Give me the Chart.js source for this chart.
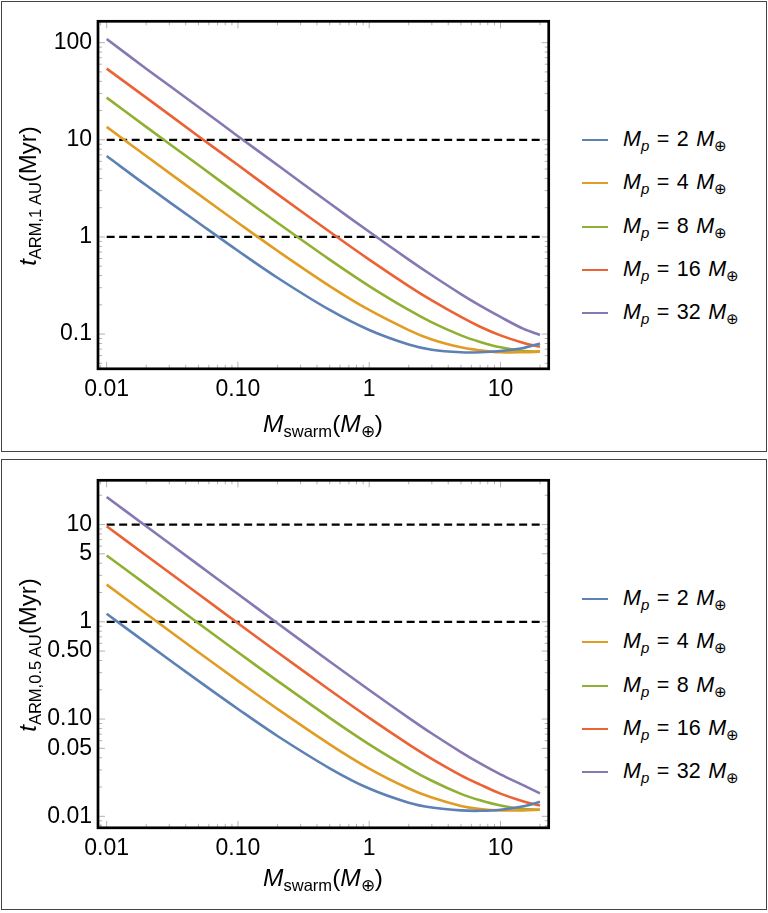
<!DOCTYPE html>
<html>
<head>
<meta charset="utf-8">
<script src="https://cdn.jsdelivr.net/npm/chart.js@4.4.1/dist/chart.umd.min.js"></script>
<style>
  html, body { margin: 0; padding: 0; background: #fff; }
  body { width: 768px; height: 913px; position: relative; overflow: hidden;
         font-family: "Liberation Sans", Arial, sans-serif; color: #000; }
  .panel { position: absolute; left: 0.5px; width: 766px; height: 451px;
           border: 1.5px solid #444; box-sizing: border-box; }
  .plot { position: absolute; left: 0; width: 560px; height: 452px; }
  .ytitle { position: absolute; left: 28px; white-space: nowrap; font-size: 24px;
            transform: translate(-50%, -50%) rotate(-90deg); }
  .xtitle { position: absolute; left: 323px; white-space: nowrap; font-size: 24.5px;
            transform: translateX(-50%); }
  .sb { font-size: 16.5px; position: relative; top: 0.32em; }
  .legend { position: absolute; left: 582px; }
  .legend div { position: absolute; left: 0; height: 30px; line-height: 30px;
                white-space: nowrap; font-size: 21.5px; word-spacing: 1.5px; }
  .legend .sb { font-size: 15px; }
  .legend span.swatch { display: inline-block; width: 26px; height: 2px;
                        vertical-align: middle; margin-right: 15px; }
</style>
</head>
<body>
<div class="panel" style="top:0.5px"></div>
<div class="panel" style="top:459px"></div>

<div class="plot" style="top:0px"><canvas id="chart1AU"></canvas></div>
<div class="plot" style="top:459px"><canvas id="chartHalfAU"></canvas></div>

<div class="ytitle" style="top:196px"><i>t</i><span class="sb">ARM,1 AU</span>(Myr)</div>
<div class="ytitle" style="top:655px"><i>t</i><span class="sb">ARM,0.5 AU</span>(Myr)</div>
<div class="xtitle" style="top:410px"><i>M</i><span class="sb">swarm</span>(<i>M</i><span class="sb">&#8853;</span>)</div>
<div class="xtitle" style="top:864px"><i>M</i><span class="sb">swarm</span>(<i>M</i><span class="sb">&#8853;</span>)</div>

<div class="legend" id="legend1AU" style="top:0px"></div>
<div class="legend" id="legendHalfAU" style="top:459px"></div>

<script>
// swarm mass (Earth masses) where the curves were read
const massSwarm = [0.01, 0.02, 0.05, 0.1, 0.2, 0.5, 1, 2, 3, 5, 7, 10, 15, 20];
const planetMasses = [2, 4, 8, 16, 32];
const seriesColors = ["#5E81B5", "#E19C24", "#8FB032", "#EB6235", "#8778B3"];

// t_ARM at 1 AU (Myr)
const t1AU_Mp2  = [6.8, 3.4, 1.4, 0.72, 0.38, 0.177, 0.110, 0.078, 0.069, 0.065, 0.065, 0.067, 0.072, 0.080];
const t1AU_Mp4  = [13.6, 6.8, 2.76, 1.40, 0.72, 0.312, 0.177, 0.110, 0.088, 0.073, 0.068, 0.065, 0.065, 0.066];
const t1AU_Mp8  = [27.2, 13.6, 5.5, 2.76, 1.40, 0.584, 0.312, 0.177, 0.132, 0.097, 0.083, 0.073, 0.067, 0.066];
const t1AU_Mp16 = [54, 27.2, 10.9, 5.5, 2.76, 1.13, 0.584, 0.312, 0.222, 0.150, 0.119, 0.097, 0.081, 0.074];
const t1AU_Mp32 = [109, 54, 21.8, 10.9, 5.5, 2.22, 1.13, 0.584, 0.403, 0.258, 0.196, 0.150, 0.113, 0.098];

// t_ARM at 0.5 AU (Myr)
const tHalfAU_Mp2  = [1.21, 0.607, 0.247, 0.127, 0.067, 0.0312, 0.0193, 0.0138, 0.0123, 0.0115, 0.0114, 0.0117, 0.0127, 0.0141];
const tHalfAU_Mp4  = [2.41, 1.21, 0.487, 0.247, 0.127, 0.055, 0.031, 0.0193, 0.0156, 0.0128, 0.0119, 0.0115, 0.0115, 0.0117];
const tHalfAU_Mp8  = [4.81, 2.41, 0.967, 0.487, 0.247, 0.103, 0.055, 0.0312, 0.0232, 0.0170, 0.0146, 0.0129, 0.0119, 0.0117];
const tHalfAU_Mp16 = [9.6, 4.81, 1.93, 0.967, 0.487, 0.199, 0.103, 0.055, 0.039, 0.0264, 0.0212, 0.0171, 0.0142, 0.0129];
const tHalfAU_Mp32 = [19.2, 9.6, 3.85, 1.93, 0.967, 0.391, 0.199, 0.103, 0.071, 0.0458, 0.0350, 0.0270, 0.0208, 0.0172];

// dashed reference levels (Myr), drawn across the sampled mass range
const refLevels = [10, 1];
const refSpan = [0.01, 20];

// axis ranges and labelled ticks
const xRange = [0.00859, 23.3];
const xTickValues = [0.01, 0.1, 1, 10];
const xTickLabels = ["0.01", "0.10", "1", "10"];
const y1AURange = [0.0439, 166];
const y1AUTickValues = [0.1, 1, 10, 100];
const y1AUTickLabels = ["0.1", "1", "10", "100"];
const yHalfAURange = [0.00762, 28.5];
const yHalfAUTickValues = [0.01, 0.05, 0.1, 0.5, 1, 5, 10];
const yHalfAUTickLabels = ["0.01", "0.05", "0.10", "0.50", "1", "5", "10"];

// frame + inward Mathematica style ticks
const frameTicks = {
    id: "frameTicks",
    beforeDatasetsDraw(chart, args, opts) {
        const { ctx, chartArea: a, scales } = chart;
        const x = scales.x, y = scales.y;
        ctx.save();
        ctx.strokeStyle = "#b4b4b4";
        ctx.lineWidth = 1;
        const minorOf = (lo, hi) => {
            const out = [];
            for (let d = Math.floor(Math.log10(lo)); d <= Math.ceil(Math.log10(hi)); d++) {
                for (let k = 1; k <= 9; k++) {
                    const v = k * Math.pow(10, d);
                    if (v >= lo && v <= hi) out.push(v);
                }
            }
            return out;
        };
        const drawX = (v, len) => {
            const px = x.getPixelForValue(v);
            ctx.beginPath();
            ctx.moveTo(px, a.bottom); ctx.lineTo(px, a.bottom - len);
            ctx.moveTo(px, a.top); ctx.lineTo(px, a.top + len);
            ctx.stroke();
        };
        const drawY = (v, len) => {
            const py = y.getPixelForValue(v);
            ctx.beginPath();
            ctx.moveTo(a.left, py); ctx.lineTo(a.left + len, py);
            ctx.moveTo(a.right, py); ctx.lineTo(a.right - len, py);
            ctx.stroke();
        };
        minorOf(x.min, x.max).forEach((v) => drawX(v, opts.xMajor.includes(v) ? 7 : 4));
        minorOf(y.min, y.max).forEach((v) => drawY(v, opts.yMajor.includes(v) ? 7 : 4));
        ctx.restore();
    },
    afterDatasetsDraw(chart) {
        const { ctx, chartArea: a } = chart;
        ctx.save();
        ctx.strokeStyle = "#000";
        ctx.lineWidth = 2.7;
        ctx.lineJoin = "miter";
        ctx.strokeRect(a.left, a.top, a.right - a.left, a.bottom - a.top);
        ctx.restore();
    },
};

function makeChart(canvasId, legendId, seriesList, yRange, yTickValues, yTickLabels) {
    const datasets = seriesList.map((vals, i) => ({
        label: "Mp = " + planetMasses[i],
        data: massSwarm.map((m, j) => ({ x: m, y: vals[j] })),
        borderColor: seriesColors[i],
        borderWidth: 2.6,
        pointRadius: 0,
        tension: 0.35,
        fill: false,
        inLegend: true,
    }));
    refLevels.forEach((lvl) => {
        datasets.push({
            label: "ref " + lvl,
            data: refSpan.map((m) => ({ x: m, y: lvl })),
            borderColor: "#000",
            borderWidth: 2.3,
            borderDash: [8, 4.5],
            pointRadius: 0,
            fill: false,
            inLegend: false,
        });
    });

    const chart = new Chart(document.getElementById(canvasId).getContext("2d"), {
        type: "line",
        data: { datasets: datasets },
        options: {
            responsive: true,
            maintainAspectRatio: false,
            animation: false,
            layout: { padding: { top: 21.3, right: 11.3, left: 0, bottom: 0 } },
            plugins: {
                legend: { display: false },
                tooltip: { enabled: false },
                frameTicks: { xMajor: xTickValues, yMajor: yTickValues },
            },
            scales: {
                x: {
                    type: "logarithmic",
                    min: xRange[0],
                    max: xRange[1],
                    grid: { display: false, drawTicks: false },
                    border: { display: false },
                    afterBuildTicks: (s) => { s.ticks = xTickValues.map((v) => ({ value: v })); },
                    afterFit: (s) => { s.height = 452 - 368.8; },
                    ticks: {
                        autoSkip: false,
                        maxRotation: 0,
                        padding: 7,
                        color: "#000",
                        font: { family: "'Liberation Sans', Arial, sans-serif", size: 23 },
                        callback: (v) => xTickLabels[xTickValues.indexOf(v)],
                    },
                },
                y: {
                    type: "logarithmic",
                    min: yRange[0],
                    max: yRange[1],
                    grid: { display: false, drawTicks: false },
                    border: { display: false },
                    afterBuildTicks: (s) => { s.ticks = yTickValues.map((v) => ({ value: v })); },
                    afterFit: (s) => { s.width = 98; },
                    ticks: {
                        autoSkip: false,
                        padding: 6,
                        color: "#000",
                        font: { family: "'Liberation Sans', Arial, sans-serif", size: 23 },
                        callback: (v) => yTickLabels[yTickValues.indexOf(v)],
                    },
                },
            },
        },
        plugins: [frameTicks],
    });

    // legend built from the chart's own datasets
    const box = document.getElementById(legendId);
    let row = 0;
    chart.data.datasets.forEach((ds) => {
        if (!ds.inLegend) return;
        const mp = ds.label.split("= ")[1];
        const item = document.createElement("div");
        item.style.top = Math.round(124 + row * 43.3) + "px";
        item.innerHTML = '<span class="swatch" style="background:' + ds.borderColor + '"></span>' +
            '<i>M</i><i class="sb">p</i> = ' + mp + ' <i>M</i><span class="sb">&#8853;</span>';
        box.appendChild(item);
        row++;
    });
    return chart;
}

makeChart("chart1AU", "legend1AU",
    [t1AU_Mp2, t1AU_Mp4, t1AU_Mp8, t1AU_Mp16, t1AU_Mp32],
    y1AURange, y1AUTickValues, y1AUTickLabels);
makeChart("chartHalfAU", "legendHalfAU",
    [tHalfAU_Mp2, tHalfAU_Mp4, tHalfAU_Mp8, tHalfAU_Mp16, tHalfAU_Mp32],
    yHalfAURange, yHalfAUTickValues, yHalfAUTickLabels);
</script>
</body>
</html>
